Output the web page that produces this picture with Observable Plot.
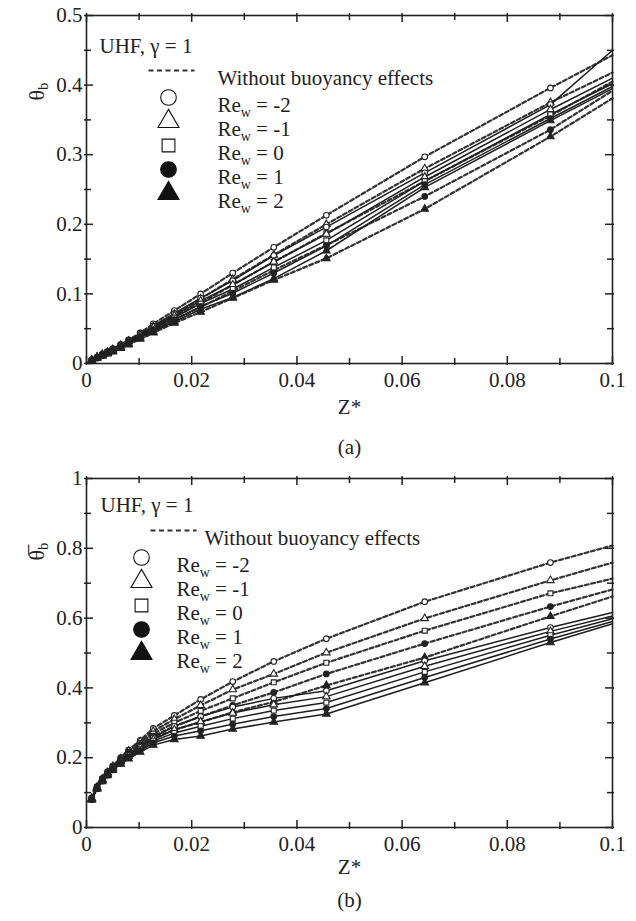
<!DOCTYPE html>
<html><head><meta charset="utf-8">
<script src="https://cdn.jsdelivr.net/npm/d3@7"></script>
<script src="https://cdn.jsdelivr.net/npm/@observablehq/plot@0.6"></script>
<style>
body{margin:0;background:#fff;}
#chart svg{display:block;}
#chart svg text, #chart svg tspan{font-family:"Liberation Serif","Times New Roman",serif !important;}
</style>
</head><body><div id="chart"></div>
<script>
// ---- data ----
const zValues = [0.001,0.002,0.003,0.004,0.005,0.0065,0.008,0.0102,0.0127,0.0167,0.0217,0.0278,0.0356,0.0456,0.0643,0.0882,0.1];
const reLabels = ["Re_w = -2","Re_w = -1","Re_w = 0","Re_w = 1","Re_w = 2"];
const reSymbols = ["circle","triangle","square","circle","triangle"];
const reFilled = [false,false,false,true,true];

const xTicksMajor = [0,0.02,0.04,0.06,0.08,0.1];
const xTickLabels = ["0","0.02","0.04","0.06","0.08","0.1"];
const xTicksMinor = [0.01,0.03,0.05,0.07,0.09];
const yTicksMajorA = [0,0.1,0.2,0.3,0.4,0.5];
const yTickLabelsA = ["0","0.1","0.2","0.3","0.4","0.5"];
const yTicksMinorA = [0.05,0.15,0.25,0.35,0.45];
const yTicksMajorB = [0,0.2,0.4,0.6,0.8,1];
const yTickLabelsB = ["0","0.2","0.4","0.6","0.8","1"];
const yTicksMinorB = [0.1,0.3,0.5,0.7,0.9];

// panel (a): theta_b, without buoyancy (dashed)
const aWithoutReM2 = [0.005,0.009,0.013,0.017,0.021,0.027,0.034,0.044,0.057,0.076,0.100,0.130,0.167,0.213,0.297,0.396,0.443];
const aWithoutReM1 = [0.005,0.009,0.013,0.016,0.020,0.026,0.032,0.041,0.053,0.071,0.093,0.121,0.156,0.200,0.280,0.375,0.418];
const aWithoutRe0  = [0.004,0.008,0.012,0.016,0.019,0.025,0.031,0.039,0.050,0.067,0.087,0.113,0.146,0.187,0.262,0.356,0.405];
const aWithoutRe1  = [0.004,0.008,0.012,0.015,0.018,0.024,0.029,0.037,0.047,0.063,0.081,0.104,0.134,0.170,0.240,0.336,0.392];
const aWithoutRe2  = [0.004,0.008,0.011,0.014,0.017,0.022,0.027,0.035,0.044,0.058,0.074,0.094,0.120,0.151,0.222,0.326,0.381];
// panel (a): with buoyancy (solid)
const aWithReM2 = [0.005,0.009,0.013,0.017,0.021,0.027,0.033,0.042,0.054,0.072,0.094,0.119,0.155,0.196,0.274,0.372,0.450];
const aWithReM1 = [0.005,0.009,0.013,0.016,0.020,0.026,0.032,0.041,0.052,0.069,0.090,0.113,0.146,0.186,0.268,0.365,0.410];
const aWithRe0  = [0.004,0.008,0.012,0.016,0.019,0.025,0.031,0.040,0.050,0.066,0.086,0.107,0.138,0.177,0.262,0.358,0.402];
const aWithRe1  = [0.004,0.008,0.012,0.015,0.019,0.024,0.030,0.038,0.048,0.063,0.082,0.101,0.130,0.169,0.257,0.352,0.398];
const aWithRe2  = [0.004,0.008,0.011,0.015,0.018,0.023,0.029,0.037,0.046,0.060,0.078,0.095,0.122,0.162,0.253,0.349,0.395];

// panel (b): mean theta_b, without buoyancy (dashed)
const bWithoutReM2 = [0.085,0.117,0.140,0.160,0.177,0.200,0.222,0.250,0.284,0.321,0.367,0.418,0.476,0.541,0.647,0.759,0.808];
const bWithoutReM1 = [0.084,0.116,0.139,0.158,0.175,0.197,0.219,0.246,0.276,0.310,0.350,0.395,0.440,0.501,0.599,0.708,0.759];
const bWithoutRe0  = [0.083,0.115,0.138,0.157,0.173,0.195,0.216,0.242,0.269,0.300,0.334,0.370,0.416,0.472,0.564,0.671,0.713];
const bWithoutRe1  = [0.082,0.114,0.137,0.155,0.171,0.193,0.213,0.238,0.262,0.290,0.318,0.350,0.387,0.440,0.527,0.633,0.682];
const bWithoutRe2  = [0.081,0.113,0.136,0.154,0.170,0.191,0.210,0.234,0.255,0.280,0.302,0.330,0.360,0.407,0.487,0.605,0.662];
// panel (b): with buoyancy (solid)
const bWithReM2 = [0.082,0.114,0.136,0.154,0.170,0.190,0.208,0.232,0.258,0.290,0.318,0.345,0.370,0.392,0.478,0.573,0.616];
const bWithReM1 = [0.082,0.113,0.135,0.153,0.168,0.188,0.205,0.228,0.252,0.280,0.303,0.328,0.352,0.375,0.462,0.562,0.606];
const bWithRe0  = [0.081,0.112,0.134,0.152,0.167,0.186,0.202,0.224,0.247,0.271,0.290,0.312,0.335,0.358,0.446,0.551,0.598];
const bWithRe1  = [0.080,0.111,0.133,0.150,0.165,0.184,0.200,0.220,0.242,0.262,0.277,0.296,0.318,0.341,0.430,0.540,0.590];
const bWithRe2  = [0.079,0.110,0.132,0.149,0.164,0.182,0.197,0.216,0.236,0.252,0.262,0.282,0.302,0.325,0.415,0.530,0.584];

// ---- drawing ----
const INK = "#222";
const FONT = "'Liberation Serif', 'Times New Roman', serif";
const dashSymbol = {draw(ctx){ ctx.moveTo(-23,0); ctx.lineTo(23,0); }};

function seriesRows(arr){ return zValues.map((z,i)=>({z, t: arr[i]})); }

function panel(cfg){
  const W = 636, mL = 86, mR = 24;
  const pw = W - mL - mR, ph = cfg.plotH;
  const marks = [];
  const txt = {fontSize: 21, fill: INK, fontFamily: FONT};
  cfg.without.forEach(arr=>{
    marks.push(Plot.line(seriesRows(arr), {x:"z", y:"t", stroke:"#333", strokeWidth:2.2, strokeDasharray:"4,2.6"}));
  });
  cfg.with.forEach(arr=>{
    marks.push(Plot.line(seriesRows(arr), {x:"z", y:"t", stroke:"#1e1e1e", strokeWidth:1.5}));
  });
  [...cfg.without, ...cfg.with].forEach((arr,j)=>{
    const k = j % 5;
    marks.push(Plot.dot(seriesRows(arr).slice(0,-1), {x:"z", y:"t", symbol: reSymbols[k], r: 2.8,
      fill: reFilled[k] ? INK : "white", stroke: INK, strokeWidth: 1.1}));
  });
  marks.push(Plot.frame({stroke: INK, strokeWidth: 1.6}));
  marks.push(Plot.tickX(cfg.xMajor, {x: d=>d, insetTop: ph-7, insetBottom: -2, stroke: INK, strokeWidth: 1.5}));
  marks.push(Plot.tickX(cfg.xMajor, {x: d=>d, insetBottom: ph-7, insetTop: -2, stroke: INK, strokeWidth: 1.5}));
  marks.push(Plot.tickX(cfg.xMinor, {x: d=>d, insetTop: ph-5, insetBottom: -2, stroke: INK, strokeWidth: 1.5}));
  marks.push(Plot.tickX(cfg.xMinor, {x: d=>d, insetBottom: ph-5, insetTop: -2, stroke: INK, strokeWidth: 1.5}));
  marks.push(Plot.tickY(cfg.yMajor, {y: d=>d, insetRight: pw-7, insetLeft: -2, stroke: INK, strokeWidth: 1.5}));
  marks.push(Plot.tickY(cfg.yMajor, {y: d=>d, insetLeft: pw-7, insetRight: -2, stroke: INK, strokeWidth: 1.5}));
  marks.push(Plot.tickY(cfg.yMinor, {y: d=>d, insetRight: pw-5, insetLeft: -2, stroke: INK, strokeWidth: 1.5}));
  marks.push(Plot.tickY(cfg.yMinor, {y: d=>d, insetLeft: pw-5, insetRight: -2, stroke: INK, strokeWidth: 1.5}));
  marks.push(Plot.axisX(cfg.xMajor, {tickSize: 0, tickPadding: 9, tickFormat: d => xTickLabels[cfg.xMajor.indexOf(d)], label: null, ...txt}));
  marks.push(Plot.axisY(cfg.yMajor, {tickSize: 0, tickPadding: 4, tickFormat: d => cfg.yLabels[cfg.yMajor.indexOf(d)], label: null, ...txt}));
  marks.push(Plot.text(["Z*"], {frameAnchor: "bottom", dy: cfg.zDy, text: d=>d, ...txt}));
  marks.push(Plot.text([cfg.caption], {frameAnchor: "bottom", dy: cfg.capDy, text: d=>d, ...txt}));
  marks.push(Plot.text([cfg.yTitle], {frameAnchor: "top-left", dx: -58, dy: cfg.yTitleDy, rotate: -90, text: d=>d, ...txt, fontSize: 22}));
  const L = cfg.legend;
  marks.push(Plot.text(["UHF, γ = 1"], {frameAnchor: "top-left", dx: L.uhfDx, dy: L.uhfDy, text: d=>d, textAnchor: "start", ...txt}));
  marks.push(Plot.dot([0], {frameAnchor: "top-left", dx: L.dashDx, dy: L.rowDy0, symbol: dashSymbol, r: 5, fill: "none", stroke: "#333", strokeWidth: 1.8, strokeDasharray: "5,3.5"}));
  marks.push(Plot.text(["Without buoyancy effects"], {frameAnchor: "top-left", dx: L.withoutDx, dy: L.rowDy0, text: d=>d, textAnchor: "start", ...txt}));
  reLabels.forEach((lab,k)=>{
    const dy = L.rowDy1 + k*L.rowStep;
    marks.push(Plot.dot([0], {frameAnchor: "top-left", dx: L.symDx, dy, symbol: reSymbols[k], r: reSymbols[k]==="square" ? 7.2 : 7.8,
      fill: reFilled[k] ? "#111" : "white", stroke: "#111", strokeWidth: 1.1}));
    marks.push(Plot.text([lab], {frameAnchor: "top-left", dx: L.reDx, dy, text: d=>d, textAnchor: "start", ...txt}));
  });
  const svg = Plot.plot({
    width: W, height: cfg.marginTop + ph + cfg.marginBottom,
    marginLeft: mL, marginRight: mR, marginTop: cfg.marginTop, marginBottom: cfg.marginBottom,
    x: {domain: [0, 0.1]},
    y: {domain: cfg.yDomain},
    style: {fontFamily: FONT, fontSize: "21px", background: "white", color: INK, overflow: "visible"},
    marks
  });
  subscriptify(svg);
  return svg;
}

function subscriptify(svg){
  const ns = "http://www.w3.org/2000/svg";
  svg.querySelectorAll("text").forEach(t=>{
    t.setAttribute("font-family", FONT);
    const s = t.textContent;
    if (!s.includes("_")) return;
    const m = s.match(/^(.*?)_(\w)(.*)$/);
    if (!m) return;
    t.textContent = "";
    const a = document.createElementNS(ns, "tspan"); a.textContent = m[1];
    const b = document.createElementNS(ns, "tspan"); b.textContent = m[2];
    b.setAttribute("font-size", "0.66em"); b.setAttribute("dy", "0.3em");
    t.appendChild(a); t.appendChild(b);
    if (m[3]) {
      const c = document.createElementNS(ns, "tspan"); c.textContent = m[3];
      c.setAttribute("dy", "-0.2em");
      t.appendChild(c);
    }
  });
}

const chart = document.getElementById("chart");
chart.appendChild(panel({
  plotH: 348, marginTop: 15, marginBottom: 105, yDomain: [0, 0.5],
  xMajor: xTicksMajor, xMinor: xTicksMinor, yMajor: yTicksMajorA, yMinor: yTicksMinorA, yLabels: yTickLabelsA,
  without: [aWithoutReM2, aWithoutReM1, aWithoutRe0, aWithoutRe1, aWithoutRe2],
  with: [aWithReM2, aWithReM1, aWithRe0, aWithRe1, aWithRe2],
  zDy: 50, capDy: 90, caption: "(a)", yTitle: "θ_b", yTitleDy: 85,
  legend: {uhfDx: 13, uhfDy: 23, dashDx: 85, withoutDx: 131, rowDy0: 55, symDx: 82, reDx: 131, rowDy1: 82, rowStep: 24}
}));
chart.appendChild(panel({
  plotH: 349, marginTop: 10, marginBottom: 94, yDomain: [0, 1],
  xMajor: xTicksMajor, xMinor: xTicksMinor, yMajor: yTicksMajorB, yMinor: yTicksMinorB, yLabels: yTickLabelsB,
  without: [bWithoutReM2, bWithoutReM1, bWithoutRe0, bWithoutRe1, bWithoutRe2],
  with: [bWithReM2, bWithReM1, bWithRe0, bWithRe1, bWithRe2],
  zDy: 46, capDy: 79, caption: "(b)", yTitle: "θ\u0305_b", yTitleDy: 82,
  legend: {uhfDx: 14, uhfDy: 19, dashDx: 87, withoutDx: 118, rowDy0: 52, symDx: 55, reDx: 90, rowDy1: 79, rowStep: 24}
}));
</script>
</body></html>
